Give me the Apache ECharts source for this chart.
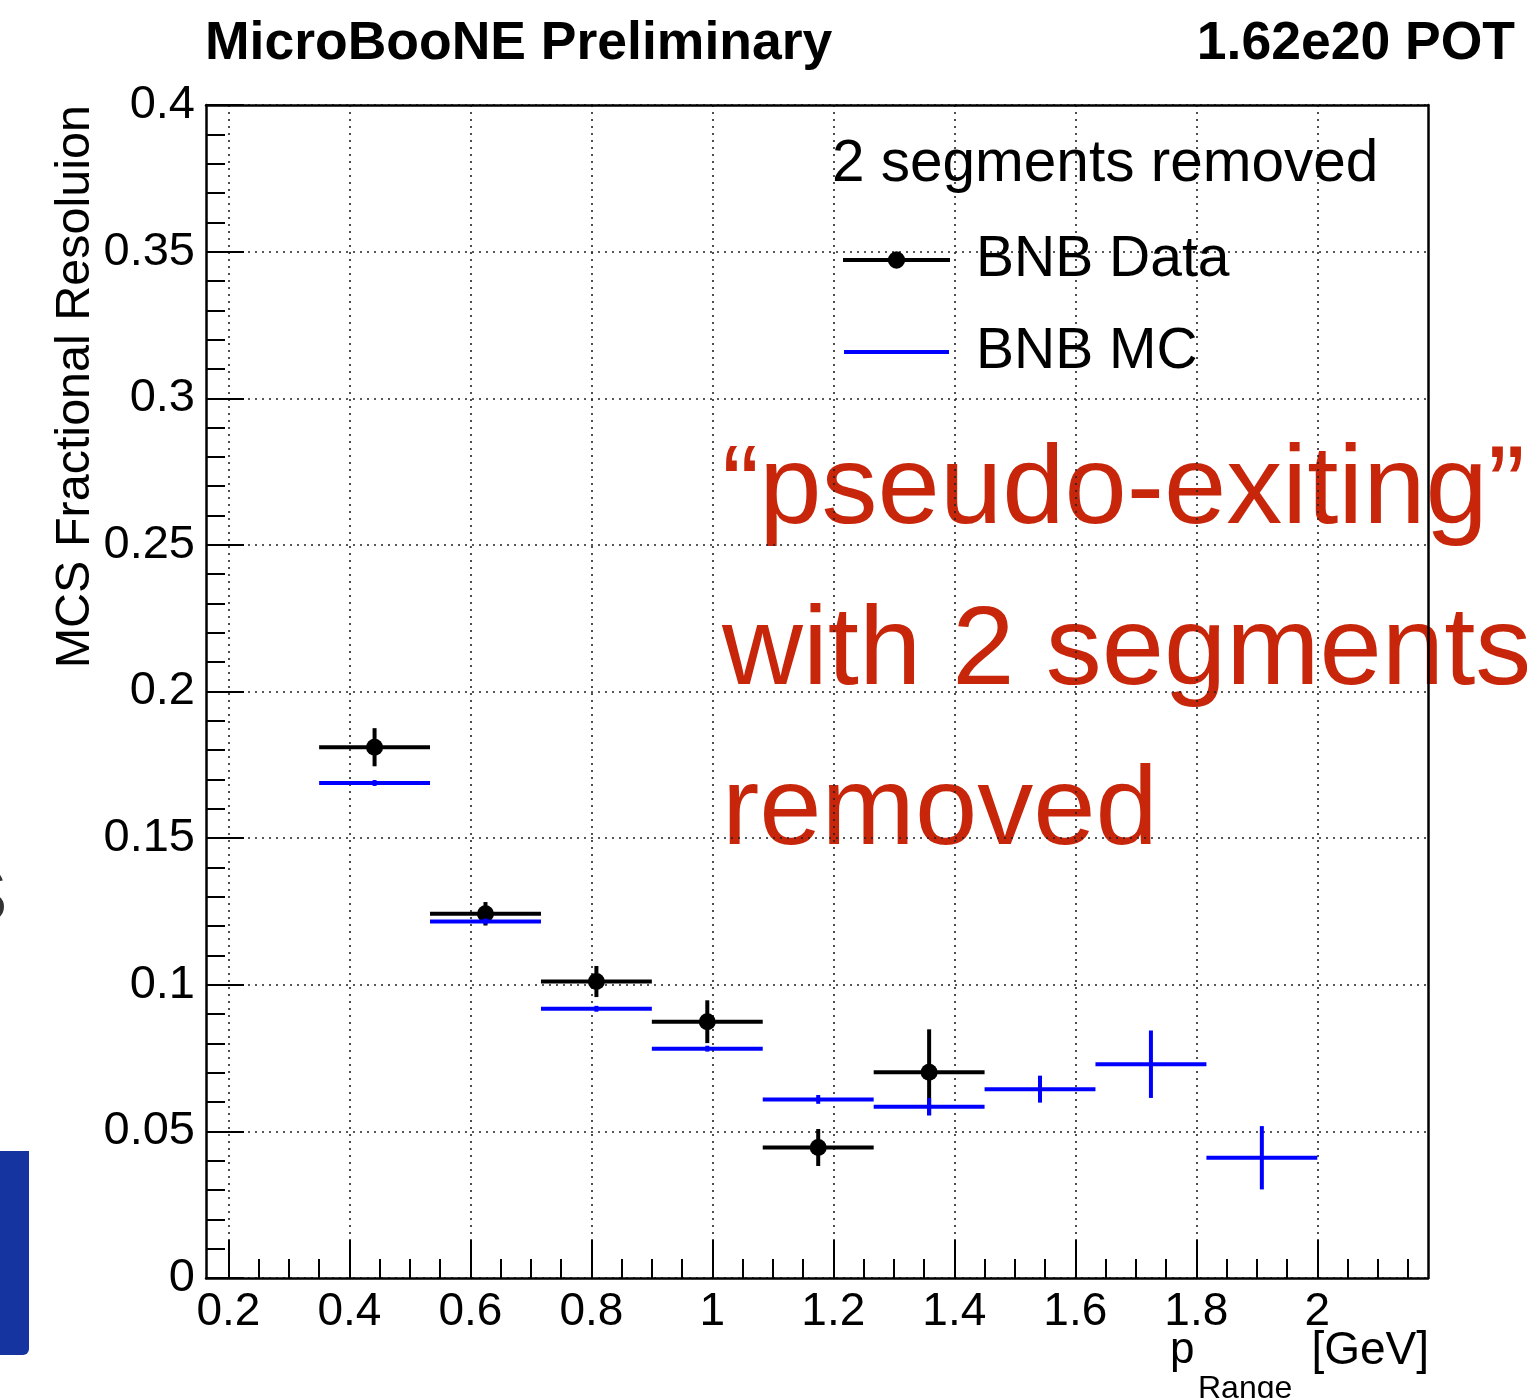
<!DOCTYPE html>
<html>
<head>
<meta charset="utf-8">
<script src="https://cdn.jsdelivr.net/npm/echarts@6/dist/echarts.min.js"></script>
<style>
html,body{margin:0;padding:0;background:#fff;}
#chart{width:1527px;height:1398px;}
</style>
</head>
<body>
<div id="chart"></div>
<script>
// ---- data ----
const binEdges   = [0.35, 0.5333, 0.7167, 0.9, 1.0833, 1.2667, 1.45, 1.6333, 1.8167, 2.0];
const dataValues = [0.181, 0.1242, 0.1011, 0.0874, 0.0445, 0.0702];
const dataErrors = [0.0065, 0.004, 0.0053, 0.0073, 0.0063, 0.0146];
const mcValues   = [0.1688, 0.1216, 0.0918, 0.0782, 0.0609, 0.0584, 0.0644, 0.0729, 0.041];
const mcErrors   = [0.001, 0.001, 0.001, 0.001, 0.0015, 0.003, 0.0046, 0.0115, 0.0108];
const xMajorTicks = [0.2, 0.4, 0.6, 0.8, 1.0, 1.2, 1.4, 1.6, 1.8, 2.0];
const xMinorTicks = [0.25, 0.3, 0.35, 0.45, 0.5, 0.55, 0.65, 0.7, 0.75, 0.85, 0.9, 0.95,
                     1.05, 1.1, 1.15, 1.25, 1.3, 1.35, 1.45, 1.5, 1.55, 1.65, 1.7, 1.75,
                     1.85, 1.9, 1.95, 2.05, 2.1, 2.15];
const seriesNames = ['BNB Data', 'BNB MC'];

const X_MIN = 0.163, X_MAX = 2.183;
const FONT = '"Liberation Sans", Arial, Helvetica, sans-serif';

const dataRows = dataValues.map((v, i) => [binEdges[i], binEdges[i + 1], v, dataErrors[i]]);
const mcRows   = mcValues.map((v, i) => [binEdges[i], binEdges[i + 1], v, mcErrors[i]]);

function makeRender(color, marker) {
  return function (params, api) {
    const lo = api.value(0), hi = api.value(1), y = api.value(2), e = api.value(3);
    const xc = (lo + hi) / 2;
    const a = api.coord([lo, y]), b = api.coord([hi, y]);
    const t = api.coord([xc, y + e]), d = api.coord([xc, y - e]);
    const st = { stroke: color, lineWidth: 4, fill: null };
    const children = [
      { type: 'line', shape: { x1: a[0], y1: a[1], x2: b[0], y2: b[1] }, style: st },
      { type: 'line', shape: { x1: t[0], y1: t[1], x2: d[0], y2: d[1] }, style: st }
    ];
    if (marker) {
      children.push({ type: 'circle', shape: { cx: t[0], cy: a[1], r: 8.5 }, style: { fill: color } });
    }
    return { type: 'group', children: children };
  };
}

const dataIcon = 'path://M0,7 L105,7 L105,11 L0,11 Z M61,9 A8.5,8.5 0 1 1 44,9 A8.5,8.5 0 1 1 61,9 Z';
const mcIcon = 'path://M0,0 L0.01,0 L0.01,0.01 Z M0,7 L105,7 L105,11 L0,11 Z M104.99,17.99 L105,17.99 L105,18 Z';

const chart = echarts.init(document.getElementById('chart'), null, { renderer: 'canvas' });

const option = {
  animation: false,
  backgroundColor: '#fff',
  grid: { left: 206, top: 105, width: 1222, height: 1173, containLabel: false },
  xAxis: [
    {
      type: 'value', position: 'bottom', min: X_MIN, max: X_MAX,
      axisLine: { show: true, onZero: false, lineStyle: { color: '#000', width: 2.5 } },
      axisTick: { show: true, inside: true, length: 38, customValues: xMajorTicks, lineStyle: { color: '#000', width: 2 } },
      axisLabel: {
        show: true, customValues: xMajorTicks, margin: 11,
        fontFamily: FONT, fontSize: 46, color: '#000',
        formatter: v => String(+(+v).toFixed(2))
      },
      splitLine: { show: true, lineStyle: { color: '#222', width: 1.6, type: [2, 5] } }
    },
    {
      type: 'value', position: 'bottom', min: X_MIN, max: X_MAX,
      axisLine: { show: false },
      axisTick: { show: true, inside: true, length: 19, customValues: xMinorTicks, lineStyle: { color: '#000', width: 2 } },
      axisLabel: { show: false },
      splitLine: { show: false }
    },
    {
      type: 'value', position: 'top', min: X_MIN, max: X_MAX,
      axisLine: { show: true, onZero: false, lineStyle: { color: '#000', width: 2.5 } },
      axisTick: { show: false }, axisLabel: { show: false }, splitLine: { show: false }
    }
  ],
  yAxis: [
    {
      type: 'value', position: 'left', min: 0, max: 0.4, interval: 0.05,
      axisLine: { show: true, onZero: false, lineStyle: { color: '#000', width: 2.5 } },
      axisTick: { show: true, inside: true, length: 38, lineStyle: { color: '#000', width: 2 } },
      minorTick: { show: true, splitNumber: 5, length: 19, lineStyle: { color: '#000', width: 2 } },
      axisLabel: {
        show: true, margin: 11, fontFamily: FONT, fontSize: 47, color: '#000',
        formatter: v => String(+(+v).toFixed(2))
      },
      splitLine: { show: true, lineStyle: { color: '#222', width: 1.6, type: [2, 5] } }
    },
    {
      type: 'value', position: 'right', min: 0, max: 0.4,
      axisLine: { show: true, onZero: false, lineStyle: { color: '#000', width: 2.5 } },
      axisTick: { show: false }, axisLabel: { show: false }, splitLine: { show: false }
    }
  ],
  legend: {
    orient: 'vertical', left: 838, top: 225,
    itemWidth: 107, itemHeight: 18, itemGap: 32,
    selectedMode: false,
    textStyle: { fontFamily: FONT, fontSize: 57, color: '#000', lineHeight: 60, padding: [0, 0, 0, 21] },
    data: [
      { name: seriesNames[0], icon: dataIcon },
      { name: seriesNames[1], icon: mcIcon }
    ]
  },
  series: [
    {
      name: seriesNames[0], type: 'custom', xAxisIndex: 0, yAxisIndex: 0,
      itemStyle: { color: '#000' },
      renderItem: makeRender('#000', true),
      encode: { x: [0, 1], y: [2] },
      data: dataRows, z: 3
    },
    {
      name: seriesNames[1], type: 'custom', xAxisIndex: 0, yAxisIndex: 0,
      itemStyle: { color: '#0000ff' },
      renderItem: makeRender('#0000ff', false),
      encode: { x: [0, 1], y: [2] },
      data: mcRows, z: 4
    }
  ],
  graphic: [
    { type: 'text', x: 205, y: 44, z: 10,
      style: { text: 'MicroBooNE Preliminary', font: 'bold 53.5px ' + FONT, fill: '#000', align: 'left', verticalAlign: 'middle' } },
    { type: 'text', x: 1515, y: 44, z: 10,
      style: { text: '1.62e20 POT', font: 'bold 53.5px ' + FONT, fill: '#000', align: 'right', verticalAlign: 'middle' } },
    { type: 'text', x: 832, y: 165, z: 10,
      style: { text: '2 segments removed', font: '58.5px ' + FONT, fill: '#000', align: 'left', verticalAlign: 'middle' } },
    { type: 'text', x: 76, y: 105, rotation: Math.PI / 2, z: 10,
      style: { text: 'MCS Fractional Resoluion', font: '48.5px ' + FONT, fill: '#000', align: 'right', verticalAlign: 'middle' } },
    { type: 'text', x: 1170, y: 1351, z: 10,
      style: { text: 'p', font: '44px ' + FONT, fill: '#000', align: 'left', verticalAlign: 'middle' } },
    { type: 'text', x: 1198, y: 1389, z: 10,
      style: { text: 'Range', font: '32px ' + FONT, fill: '#000', align: 'left', verticalAlign: 'middle' } },
    { type: 'text', x: 1429, y: 1351, z: 10,
      style: { text: '[GeV]', font: '46px ' + FONT, fill: '#000', align: 'right', verticalAlign: 'middle' } },
    { type: 'text', x: 722, y: 492, z: -1,
      style: { text: '\u201Cpseudo-exiting\u201D', font: '112px ' + FONT, fill: '#c8260a', align: 'left', verticalAlign: 'middle' } },
    { type: 'text', x: 722, y: 653, z: -1,
      style: { text: 'with 2 segments', font: '112px ' + FONT, fill: '#c8260a', align: 'left', verticalAlign: 'middle' } },
    { type: 'text', x: 722, y: 813, z: -1,
      style: { text: 'removed', font: '112px ' + FONT, fill: '#c8260a', align: 'left', verticalAlign: 'middle' } },
    { type: 'rect', z: 10, shape: { x: 0, y: 1151, width: 29, height: 204, r: [0, 0, 6, 0] }, style: { fill: '#1634a0' } },
    { type: 'text', x: -42, y: 901, z: 10,
      style: { text: 'S', font: '74px ' + FONT, fill: '#333', align: 'left', verticalAlign: 'middle' } }
  ]
};

chart.setOption(option);
</script>
</body>
</html>
